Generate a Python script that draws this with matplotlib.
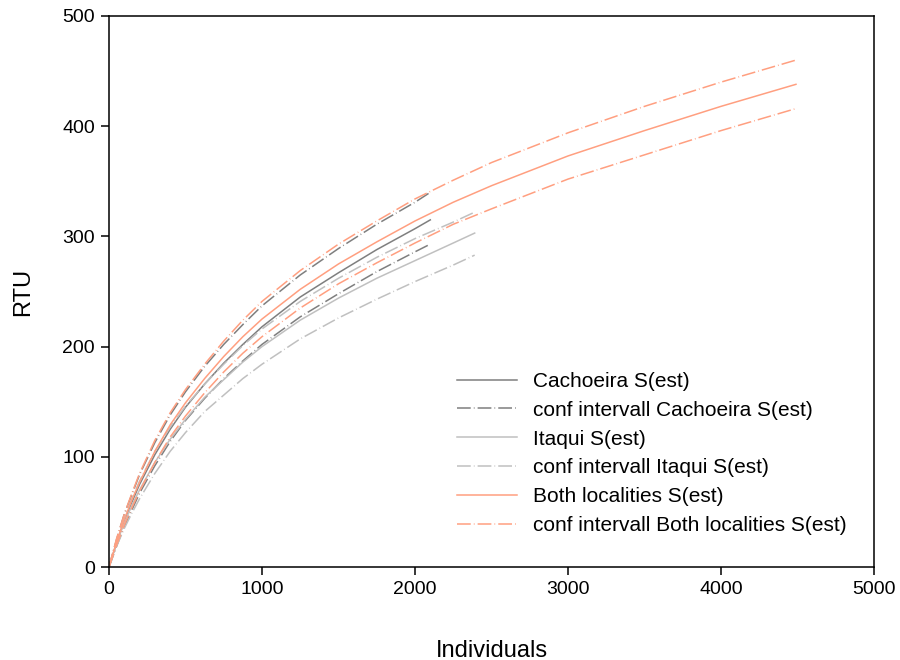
import matplotlib
matplotlib.use("Agg")
import matplotlib.pyplot as plt

plt.rcParams['font.family'] = ['Liberation Sans', 'DejaVu Sans']

# Rarefaction curves (individuals -> RTU)
both_x = [0, 50, 100, 150, 200, 300, 400, 500, 625, 750, 875, 1000, 1250, 1500,
          1750, 2000, 2250, 2500, 3000, 3500, 4000, 4490]
both_est = [0, 23, 43, 61, 77, 105, 129, 149, 171, 191, 209, 225, 252, 275,
            295, 314, 331, 346, 373, 396, 418, 438]
both_upper = [0, 26, 48, 67, 85, 115, 140, 161, 184, 205, 224, 241, 269, 293,
              314, 334, 351, 367, 394, 418, 440, 460]
both_lower = [0, 20, 38, 54, 69, 95, 118, 137, 158, 177, 194, 209, 235, 257,
              276, 294, 311, 325, 352, 374, 396, 416]

cach_x = [0, 50, 100, 150, 200, 300, 400, 500, 625, 750, 875, 1000, 1250, 1500,
          1750, 2000, 2100]
cach_est = [0, 22, 42, 59, 75, 102, 125, 145, 166, 185, 202, 218, 245, 267,
            288, 307, 315]
cach_upper = [0, 25, 48, 66, 84, 113, 138, 159, 182, 202, 220, 237, 265, 289,
              311, 331, 340]
cach_lower = [0, 19, 37, 52, 67, 92, 114, 133, 153, 171, 187, 202, 227, 248,
              268, 286, 293]

itaq_x = [0, 50, 100, 150, 200, 300, 400, 500, 625, 750, 875, 1000, 1250, 1500,
          1750, 2000, 2250, 2390]
itaq_est = [0, 22, 40, 56, 70, 95, 116, 134, 154, 170, 186, 200, 224, 244,
            262, 278, 294, 303]
itaq_upper = [0, 25, 45, 62, 78, 105, 127, 146, 166, 184, 201, 216, 241, 262,
              281, 298, 313, 322]
itaq_lower = [0, 19, 35, 49, 62, 85, 105, 122, 141, 156, 171, 184, 207, 226,
              243, 259, 274, 283]

dark = '#7f7f7f'
light = '#c0c0c0'
salmon = '#ff9f80'
dash = (9, 2, 0.5, 2)
lw = 1.1

fig = plt.figure(figsize=(9, 6.6), dpi=100)
ax = fig.add_axes([109 / 900, 1 - 567 / 660, 765 / 900, 551 / 660])

ax.plot(cach_x, cach_est, color=dark, lw=lw, label='Cachoeira S(est)')
ax.plot(cach_x, cach_upper, color=dark, lw=lw, dashes=dash,
        label='conf intervall Cachoeira S(est)')
ax.plot(cach_x, cach_lower, color=dark, lw=lw, dashes=dash)

ax.plot(itaq_x, itaq_est, color=light, lw=lw, label='Itaqui S(est)')
ax.plot(itaq_x, itaq_upper, color=light, lw=lw, dashes=dash,
        label='conf intervall Itaqui S(est)')
ax.plot(itaq_x, itaq_lower, color=light, lw=lw, dashes=dash)

ax.plot(both_x, both_est, color=salmon, lw=lw, label='Both localities S(est)')
ax.plot(both_x, both_upper, color=salmon, lw=lw, dashes=dash,
        label='conf intervall Both localities S(est)')
ax.plot(both_x, both_lower, color=salmon, lw=lw, dashes=dash)

ax.set_xlim(0, 5000)
ax.set_ylim(0, 500)
ax.set_xticks(range(0, 5001, 1000))
ax.set_yticks(range(0, 501, 100))
ax.tick_params(direction='out', length=6, width=1.1, labelsize=14, pad=4)
for s in ax.spines.values():
    s.set_linewidth(1.1)

ax.set_xlabel('Individuals', fontsize=17, labelpad=30)
ax.set_ylabel('RTU', fontsize=17, labelpad=20)

ax.legend(loc='upper left', bbox_to_anchor=(0.455, 0.354), frameon=False,
          fontsize=15, handlelength=2.9, handletextpad=0.75, labelspacing=0.47,
          borderpad=0, borderaxespad=0)

fig.savefig('out.png', dpi=100)
